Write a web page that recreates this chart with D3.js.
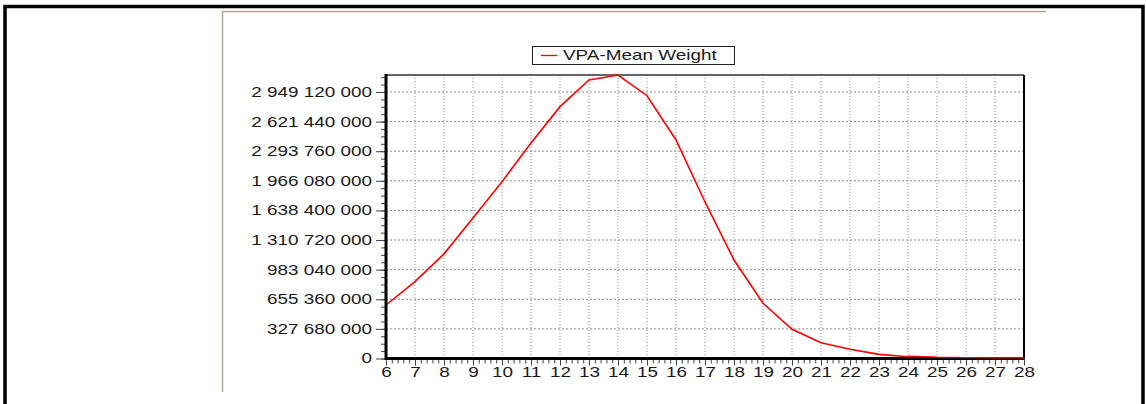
<!DOCTYPE html>
<html><head><meta charset="utf-8">
<script src="https://cdn.jsdelivr.net/npm/d3@7"></script>
<style>
html,body{margin:0;padding:0;background:#fff;}
svg{display:block;}
text{font-family:"Liberation Sans",Arial,sans-serif;fill:#1a1a1a;}
</style></head>
<body>
<svg id="c" width="1146" height="404"></svg>
<script>
// ---- data ----
const ages = [6,7,8,9,10,11,12,13,14,15,16,17,18,19,20,21,22,23,24,25,26,27,28];
const meanWeight = [592e6,850e6,1158e6,1555e6,1956e6,2385e6,2787e6,3082e6,3137e6,2908e6,2418e6,1732e6,1090e6,611e6,323e6,175e6,102e6,46e6,20e6,8e6,4e6,2e6,2e6];
const yTickValues = [0,327680000,655360000,983040000,1310720000,1638400000,1966080000,2293760000,2621440000,2949120000];
const seriesName = "VPA-Mean Weight";

const svg = d3.select("#c");
const SX = 1.35; // horizontal text stretch seen in the reference
const fmt = d3.formatLocale({decimal:".",thousands:" ",grouping:[3],currency:["",""]}).format(",d");

// outer frame
svg.append("path").attr("d","M5,404 V6.5 H1143 V404").attr("fill","none").attr("stroke","#000").attr("stroke-width",3.5);
// inner panel edge
svg.append("path").attr("d","M222.5,392 V11.5 H1046").attr("fill","none").attr("stroke","#aca899").attr("stroke-width",1.5);

const L=386, R=1024, T=75, B=358.5;
const x = d3.scaleLinear().domain([d3.min(ages), d3.max(ages)]).range([L,R]);
const y = d3.scaleLinear().domain([0, d3.max(meanWeight)]).range([B,T]);

// grid
const g = svg.append("g");
g.selectAll(".vg").data(ages).enter().append("line")
  .attr("x1",d=>x(d)).attr("x2",d=>x(d)).attr("y1",T).attr("y2",B)
  .attr("stroke","#8c8c8c").attr("stroke-width",1).attr("stroke-dasharray","1,2");
g.selectAll(".hg").data(yTickValues).enter().append("line")
  .attr("x1",L).attr("x2",R).attr("y1",d=>y(d)).attr("y2",d=>y(d))
  .attr("stroke","#8c8c8c").attr("stroke-width",1).attr("stroke-dasharray","2,2");

// minor ticks
const yMinor = d3.range(0, d3.max(meanWeight), 327680000/4);
svg.append("g").attr("transform",`translate(${L},0)`)
  .call(d3.axisLeft(y).tickValues(yMinor).tickSize(5).tickFormat(""))
  .call(a=>{a.select(".domain").remove(); a.selectAll("line").attr("stroke","#444");});
const xMinor = d3.range(ages[0], ages[ages.length-1]+0.001, 0.2);
svg.append("g").attr("transform",`translate(0,${B})`)
  .call(d3.axisBottom(x).tickValues(xMinor).tickSize(5).tickFormat(""))
  .call(a=>{a.select(".domain").remove(); a.selectAll("line").attr("stroke","#444");});

// major axes
svg.append("g").attr("transform",`translate(${L},0)`)
  .call(d3.axisLeft(y).tickValues(yTickValues).tickSize(10).tickPadding(3).tickFormat(fmt))
  .call(a=>{
    a.select(".domain").remove();
    a.selectAll("line").attr("stroke","#444");
    a.selectAll("text").attr("font-size",14).attr("x",0)
      .attr("transform",`translate(-14,0) scale(${SX},1)`);
  });
svg.append("g").attr("transform",`translate(0,${B})`)
  .call(d3.axisBottom(x).tickValues(ages).tickSize(7).tickPadding(2).tickFormat(d3.format("d")))
  .call(a=>{
    a.select(".domain").remove();
    a.selectAll("line").attr("stroke","#444");
    a.selectAll("text").attr("font-size",14).attr("transform",`scale(${SX},1)`);
  });

// plot frame
svg.append("line").attr("x1",L).attr("x2",R).attr("y1",T).attr("y2",T).attr("stroke","#333").attr("stroke-width",1.5);
svg.append("line").attr("x1",R).attr("x2",R).attr("y1",T).attr("y2",B).attr("stroke","#000").attr("stroke-width",2);

// series line
svg.append("path").datum(ages.map((a,i)=>[a,meanWeight[i]]))
  .attr("d", d3.line().x(d=>x(d[0])).y(d=>y(d[1])))
  .attr("fill","none").attr("stroke","#ff0000").attr("stroke-width",1.6);

svg.append("line").attr("x1",L).attr("x2",R).attr("y1",B).attr("y2",B).attr("stroke","#000").attr("stroke-width",3);
svg.append("line").attr("x1",L).attr("x2",L).attr("y1",T-1).attr("y2",B+1.5).attr("stroke","#000").attr("stroke-width",3);
// redraw the tail of the series on top of the axis, as in the reference
svg.append("path").datum(ages.map((a,i)=>[a,meanWeight[i]]).filter(d=>d[0]>=24))
  .attr("d", d3.line().x(d=>x(d[0])).y(d=>y(d[1])-0.5))
  .attr("fill","none").attr("stroke","#e00000").attr("stroke-width",1.4);

// legend
const lg = svg.append("g");
lg.append("rect").attr("x",532.5).attr("y",46.5).attr("width",202).attr("height",18)
  .attr("fill","#fff").attr("stroke","#222").attr("stroke-width",1);
lg.append("line").attr("x1",541).attr("x2",557).attr("y1",55.5).attr("y2",55.5).attr("stroke","#ff0000").attr("stroke-width",1.3);
lg.append("text").attr("font-size",14).attr("dy","0.35em")
  .attr("transform",`translate(563,55.5) scale(${SX},1)`).text(seriesName);
</script>
</body></html>
